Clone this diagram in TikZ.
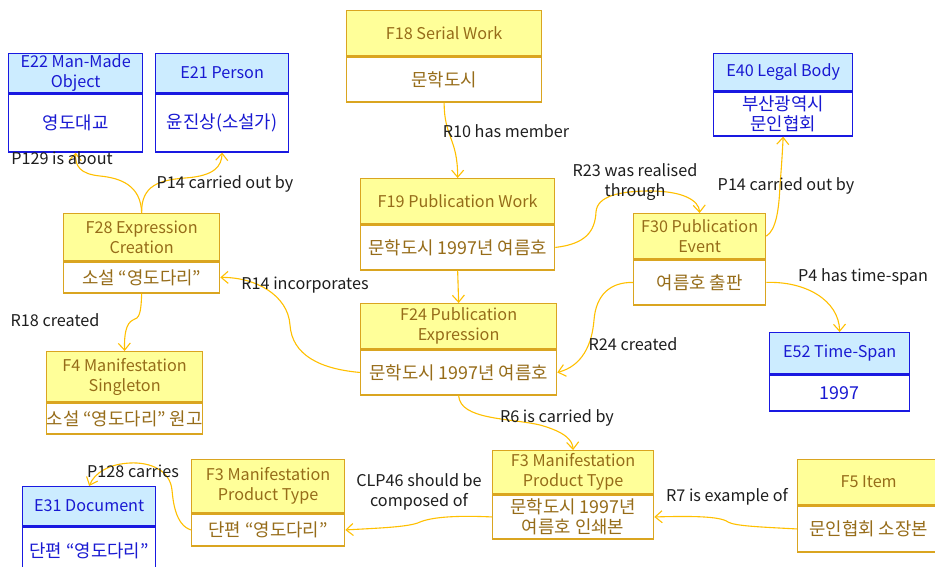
\documentclass[tikz,border=0pt]{standalone}
\usepackage{fontspec}
\setmainfont{Noto Sans CJK KR}
\newfontfamily\krbig[Scale=1.1]{Noto Sans CJK KR}
\usetikzlibrary{arrows.meta}
\definecolor{yhd}{HTML}{FFFF99}
\definecolor{ybd}{HTML}{DAA520}
\definecolor{ytx}{RGB}{150,108,25}
\definecolor{bhd}{HTML}{CCECFF}
\definecolor{bbd}{RGB}{25,25,225}
\definecolor{btx}{RGB}{25,25,210}
\definecolor{edg}{HTML}{FFC000}
\definecolor{ltx}{RGB}{30,30,30}
\newcommand\myfs{\fontsize{16.2}{20}\selectfont}
\newcommand\mybfs{\krbig\fontsize{16.2}{20}\selectfont}
\tikzset{
  yhead/.style={draw=ybd, fill=yhd, text=ytx, line width=1.3pt, inner sep=0pt, align=center, font=\myfs},
  ybody/.style={draw=ybd, fill=white, text=ytx, line width=1.3pt, inner sep=0pt, align=center, font=\mybfs},
  bhead/.style={draw=bbd, fill=bhd, text=btx, line width=1.3pt, inner sep=0pt, align=center, font=\myfs},
  bbody/.style={draw=bbd, fill=white, text=btx, line width=1.3pt, inner sep=0pt, align=center, font=\mybfs},
  rel/.style={draw=edg, line width=1.1pt, -{Straight Barb[length=7pt,width=12pt]}},
  lbl/.style={text=ltx, inner sep=0pt, align=center, font=\myfs}
}
% #1 name, #2 left x, #3 top y, #4 width, #5 header h, #6 body h, #7 kind, #8 header, #9 body
\newcommand\crmbox[9]{%
  \node[#7head, anchor=north west, minimum width=#4pt, minimum height=#5pt] (#1h) at (#2,#3) {#8};
  \node[#7body, anchor=north, minimum width=#4pt, minimum height=#6pt] (#1b) at (#1h.south) {#9};
}
\begin{document}
\begin{tikzpicture}[x=1pt,y=-1pt]
\clip (0,0) rectangle (935,567);
\fill[white] (0,0) rectangle (935,567);

\crmbox{e22}{8}{53}{134}{39}{58}{b}{E22 Man-Made\\Object}{영도대교}
\crmbox{e21}{155}{53}{133}{39}{58}{b}{E21 Person}{윤진상(소설가)}
\crmbox{f18}{346}{10}{195}{45}{45}{y}{F18 Serial Work}{문학도시}
\crmbox{e40}{713}{53}{139}{37}{44}{b}{E40 Legal Body}{부산광역시\\문인협회}
\crmbox{f28}{63}{213}{156}{47}{31}{y}{F28 Expression\\Creation}{소설 “영도다리”}
\crmbox{f19}{360}{178}{194}{45}{45}{y}{F19 Publication Work}{문학도시 1997년 여름호}
\crmbox{f30}{633}{213}{132}{45}{45}{y}{F30 Publication\\Event}{여름호 출판}
\crmbox{f24}{360}{303}{196}{45}{45}{y}{F24 Publication\\Expression}{문학도시 1997년 여름호}
\crmbox{f4}{46}{351}{156}{50}{31}{y}{F4 Manifestation\\Singleton}{소설 “영도다리” 원고}
\crmbox{e52}{769}{332}{140}{41}{36}{b}{E52 Time-Span}{1997}
\crmbox{f3m}{492}{450}{161}{43}{44}{y}{F3 Manifestation\\Product Type}{문학도시 1997년\\여름호 인쇄본}
\crmbox{f3l}{191}{459}{153}{53}{32}{y}{F3 Manifestation\\Product Type}{단편 “영도다리”}
\crmbox{e31}{22}{486}{133}{39}{48}{b}{E31 Document}{단편 “영도다리”}
\crmbox{f5}{797}{459}{142}{45}{46}{y}{F5 Item}{문인협회 소장본}

% connectors
\draw[rel] (f28h.north) .. controls (141,185) and (120,178) .. (100,176) .. controls (80,174) and (75,166) .. (e22b.south);
\draw[rel] (f28h.north) .. controls (141,185) and (160,180) .. (185,178) .. controls (215,176) and (221.5,166) .. (e21b.south);
\draw[rel] (f18b.south) .. controls +(0,35) and +(0,-40) .. (f19h.north);
\draw[rel] (f19b.east) .. controls (585,244) and (595,232) .. (596,212) .. controls (597,196) and (620,191) .. (650,191) .. controls (682,191) and (699,200) .. (f30h.north);
\draw[rel] (f30h.east) .. controls (776,230) and (779,210) .. (780,185) .. controls (782,160) and (782.5,150) .. (e40b.south);
\draw[rel] (f30b.east) .. controls (805,281) and (839,300) .. (e52h.north);
\draw[rel] (f30b.west) .. controls (610,282) and (596,295) .. (594,320) .. controls (592,345) and (582,366) .. (f24b.east);
\draw[rel] (f19b.south) -- (f24h.north);
\draw[rel] (f24b.west) .. controls (320,369) and (292,355) .. (290,325) .. controls (288,295) and (255,277) .. (f28b.east);
\draw[rel] (f28b.south) .. controls (141,315) and (139,318) .. (133,320) .. controls (126,323) and (124,335) .. (f4h.north);
\draw[rel] (f24b.south) .. controls (460,420) and (510,418) .. (540,425) .. controls (565,432) and (572.5,440) .. (f3mh.north);
\draw[rel] (f3mb.west) .. controls (450,515) and (430,518) .. (420,522) .. controls (410,527) and (380,528) .. (f3lb.east);
\draw[rel] (f5b.west) .. controls (760,527) and (735,526) .. (728,522) .. controls (720,516) and (690,516) .. (f3mb.east);
\draw[rel] (f3lb.west) .. controls (175,525) and (173,500) .. (172,490) .. controls (170,470) and (150,462) .. (130,463) .. controls (110,464) and (95,472) .. (e31h.north);

% labels
\node[lbl] (l1) at (62,158) {P129 is about};
\node[lbl] (l2) at (225,184) {P14 carried out by};
\node[lbl] (l3) at (506,131) {R10 has member};
\node[lbl] (l4) at (635,182) {R23 was realised\\through};
\node[lbl] (l5) at (786,186) {P14 carried out by};
\node[lbl] (l6) at (863,277) {P4 has time-span};
\node[lbl] (l7) at (633,344) {R24 created};
\node[lbl] (l8) at (305,285) {R14 incorporates};
\node[lbl] (l9) at (55,320) {R18 created};
\node[lbl] (l10) at (557,418) {R6 is carried by};
\node[lbl] (l11) at (419,492) {CLP46 should be\\composed of};
\node[lbl] (l12) at (727,497) {R7 is example of};
\node[lbl] (l13) at (133,471) {P128 carries};
\end{tikzpicture}
\end{document}
